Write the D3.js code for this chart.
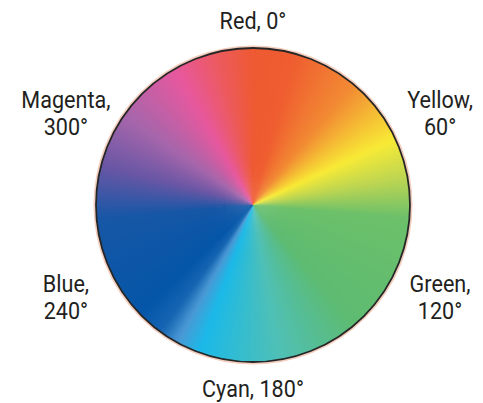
<!DOCTYPE html>
<html>
<head>
<meta charset="utf-8">
<script src="https://cdn.jsdelivr.net/npm/d3@7"></script>
<style>
  body { margin: 0; background: #fff; }
  svg { display: block; }
</style>
</head>
<body>
<script>
// hue labels
var hueNames = ["Red", "Yellow", "Green", "Cyan", "Blue", "Magenta"];
var hueAngles = [0, 60, 120, 180, 240, 300];

// colour stops of the wheel (angle clockwise from top)
var stopAngles = [0, 15, 40, 65, 80, 95, 140, 170, 200, 209, 216, 226, 265, 285, 305, 330, 346, 360];
var stopColors = ["#ee5a32", "#ef5d30", "#f28b33", "#f8ea36", "#bcd552", "#6cc06a", "#5dbb72",
                  "#4fc0b6", "#1bb9e8", "#4a98d4", "#1565b2", "#0456a8", "#1757a6", "#6b57a5",
                  "#a666ab", "#e7589e", "#ec5a60", "#ee5a32"];

var width = 483, height = 403,
    cx = 253, cy = 205, r = 157;

var svg = d3.select("body")
  .append("svg")
    .attr("width", width)
    .attr("height", height);

var hue = d3.scaleLinear()
    .domain(stopAngles)
    .range(stopColors)
    .interpolate(d3.interpolateRgb);

var wheel = svg.append("g")
    .attr("transform", "translate(" + cx + "," + cy + ")");

// halo behind the slices
wheel.append("circle")
    .attr("r", r + 1.5)
    .attr("fill", "none")
    .attr("stroke", "#f3cdbd")
    .attr("stroke-width", 2);

var step = 1;
var arc = d3.arc().innerRadius(0).outerRadius(r);
var rad = Math.PI / 180;

// each slice overlaps the next one so no seams show
wheel.selectAll(".slice")
  .data(d3.range(0, 360, step))
  .join("path")
    .attr("class", "slice")
    .attr("d", function(a) { return arc({startAngle: a * rad, endAngle: (a + 2 * step) * rad}); })
    .attr("fill", function(a) { return hue(a + step / 2); });

wheel.append("circle")
    .attr("r", r)
    .attr("fill", "none")
    .attr("stroke", "#262626")
    .attr("stroke-width", 1.8);

// labels
var rx = 216, ry = 184, lcy = 205, lineH = 27, capH = 16.5;

var labels = svg.selectAll(".label")
  .data(hueNames.map(function(n, i) { return {name: n, deg: hueAngles[i]}; }))
  .join("text")
    .attr("class", "label")
    .attr("text-anchor", "middle")
    .attr("transform", function(d) {
      return "translate(" + (cx + rx * Math.sin(d.deg * rad)) + "," + (lcy - ry * Math.cos(d.deg * rad)) + ") scale(0.92,1)";
    })
    .style("font-family", "Roboto, 'Liberation Sans', sans-serif")
    .style("font-size", "23.5px")
    .attr("fill", "#231f20");

labels.each(function(d) {
  var t = d3.select(this);
  if (d.deg % 180 === 0) {
    t.append("tspan").attr("x", 0).attr("y", capH / 2).text(d.name + ", " + d.deg + "°");
  } else {
    var top = -lineH / 2 + capH / 2;
    t.append("tspan").attr("x", 0).attr("y", top).text(d.name + ",");
    t.append("tspan").attr("x", 0).attr("y", top + lineH).text(d.deg + "°");
  }
});
</script>
</body>
</html>
